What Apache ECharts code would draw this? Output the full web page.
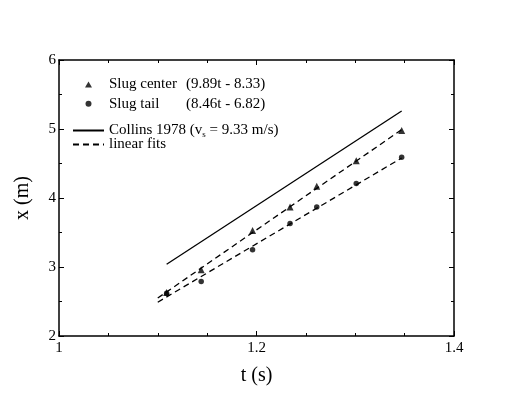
<!DOCTYPE html>
<html>
<head>
<meta charset="utf-8">
<script src="https://cdn.jsdelivr.net/npm/echarts@6/dist/echarts.min.js"></script>
<style>
html,body{margin:0;padding:0;background:#fff;}
#main{width:511px;height:396px;}
</style>
</head>
<body>
<div id="main"></div>
<script>
// measured times (s)
var tData = [1.109, 1.144, 1.196, 1.234, 1.261, 1.301, 1.347];
// slug center / slug tail positions (m)
var centerX = [2.63, 2.96, 3.53, 3.87, 4.17, 4.54, 4.98];
var tailX = [2.62, 2.79, 3.25, 3.63, 3.87, 4.21, 4.59];
// linear fits, end points
var fitT = [1.1, 1.347];
var centerFit = [2.55, 4.99];
var tailFit = [2.49, 4.58];
// Collins 1978
var collinsT = [1.109, 1.347];
var collinsX = [3.04, 5.26];
// axis ticks
var xTicks = [1, 1.2, 1.4];
var yTicks = [2, 3, 4, 5, 6];

var FONT = 'Liberation Serif';

function pairs(xs, ys){
	var out = [];
	for (var i = 0; i < xs.length; i++) {
		out.push([xs[i], ys[i]]);
	}
	return out;
}

function legendText(name){
	if (name == 'Slug center') return '{p|}{n|Slug center}{a|(9.89t - 8.33)}';
	if (name == 'Slug tail') return '{p|}{n|Slug tail}{a|(8.46t - 6.82)}';
	if (name == 'Collins 1978') return '{a|Collins 1978 (v}{s|s}{a| = 9.33 m/s)}';
	return '{a|' + name + '}';
}

var legendRich = {
	p: {width: 12, lineHeight: 18},
	n: {fontFamily: FONT, fontSize: 15, color: '#000', width: 77, lineHeight: 18},
	a: {fontFamily: FONT, fontSize: 15, color: '#000', lineHeight: 18},
	s: {fontFamily: FONT, fontSize: 9, color: '#000', lineHeight: 10, verticalAlign: 'bottom'}
};

var axisLine = {show: true, lineStyle: {color: '#000', width: 1.5}};

var option = {
	backgroundColor: '#fff',
	animation: false,
	grid: {left: 59, right: 57, top: 60, bottom: 60},
	legend: [
		{
			data: [{name: 'Slug center', icon: 'triangle'}, {name: 'Slug tail', icon: 'circle'}],
			orient: 'vertical', left: 80, top: 72,
			itemWidth: 7, itemHeight: 6, itemGap: 4.2,
			formatter: legendText,
			textStyle: {rich: legendRich},
			selectedMode: false
		},
		{
			data: ['Collins 1978'],
			orient: 'vertical', left: 67, top: 118,
			itemWidth: 31, itemHeight: 4,
			itemStyle: {opacity: 0},
			formatter: legendText,
			textStyle: {rich: legendRich},
			selectedMode: false
		},
		{
			data: ['linear fits'],
			orient: 'vertical', left: 67, top: 132,
			itemWidth: 31, itemHeight: 4,
			itemStyle: {opacity: 0},
			formatter: legendText,
			textStyle: {rich: legendRich},
			selectedMode: false
		}
	],
	xAxis: [
		{
			type: 'value', min: xTicks[0], max: xTicks[xTicks.length - 1], interval: 0.2,
			name: 't (s)', nameLocation: 'middle', nameGap: 30,
			nameTextStyle: {fontFamily: FONT, fontSize: 20, color: '#000'},
			axisLine: axisLine,
			axisTick: {inside: true, length: 5, lineStyle: {color: '#000'}},
			minorTick: {show: true, splitNumber: 4, length: 3, lineStyle: {color: '#000'}},
			axisLabel: {fontFamily: FONT, fontSize: 15, color: '#000', margin: 5},
			splitLine: {show: false}
		},
		{
			type: 'value', position: 'top', min: xTicks[0], max: xTicks[xTicks.length - 1], interval: 0.2,
			axisLine: axisLine,
			axisTick: {inside: true, length: 5, lineStyle: {color: '#000'}},
			minorTick: {show: true, splitNumber: 4, length: 3, lineStyle: {color: '#000'}},
			axisLabel: {show: false},
			splitLine: {show: false}
		}
	],
	yAxis: [
		{
			type: 'value', min: yTicks[0], max: yTicks[yTicks.length - 1], interval: 1,
			name: 'x (m)', nameLocation: 'middle', nameGap: 26,
			nameTextStyle: {fontFamily: FONT, fontSize: 20, color: '#000'},
			axisLine: axisLine,
			axisTick: {inside: true, length: 5, lineStyle: {color: '#000'}},
			minorTick: {show: true, splitNumber: 2, length: 3, lineStyle: {color: '#000'}},
			axisLabel: {fontFamily: FONT, fontSize: 15, color: '#000', margin: 3},
			splitLine: {show: false}
		},
		{
			type: 'value', position: 'right', min: yTicks[0], max: yTicks[yTicks.length - 1], interval: 1,
			axisLine: axisLine,
			axisTick: {inside: true, length: 5, lineStyle: {color: '#000'}},
			minorTick: {show: true, splitNumber: 2, length: 3, lineStyle: {color: '#000'}},
			axisLabel: {show: false},
			splitLine: {show: false}
		}
	],
	series: [
		{
			name: 'Slug center', type: 'scatter', symbol: 'triangle', symbolSize: 7,
			itemStyle: {color: '#000'},
			data: pairs(tData, centerX)
		},
		{
			name: 'Slug tail', type: 'scatter', symbol: 'circle', symbolSize: 5.5,
			itemStyle: {color: '#000'},
			data: pairs(tData, tailX)
		},
		{
			name: 'Collins 1978', type: 'line', symbol: 'none',
			lineStyle: {color: '#000', width: 1.3, type: 'solid'},
			itemStyle: {color: '#000'},
			data: pairs(collinsT, collinsX)
		},
		{
			name: 'linear fits', type: 'line', symbol: 'none',
			lineStyle: {color: '#000', width: 1.3, type: [6, 4]},
			itemStyle: {color: '#000'},
			data: pairs(fitT, centerFit)
		},
		{
			name: 'linear fits', type: 'line', symbol: 'none',
			lineStyle: {color: '#000', width: 1.3, type: [6, 4]},
			itemStyle: {color: '#000'},
			data: pairs(fitT, tailFit)
		}
	]
};

function initCharts(option, id){
	var dom = document.getElementById(id);
	var myChart = echarts.init(dom, null, {renderer: 'canvas'});
	if (option && typeof option === "object") {
		myChart.setOption(option, true);
	}
}

initCharts(option, "main");
</script>
</body>
</html>
